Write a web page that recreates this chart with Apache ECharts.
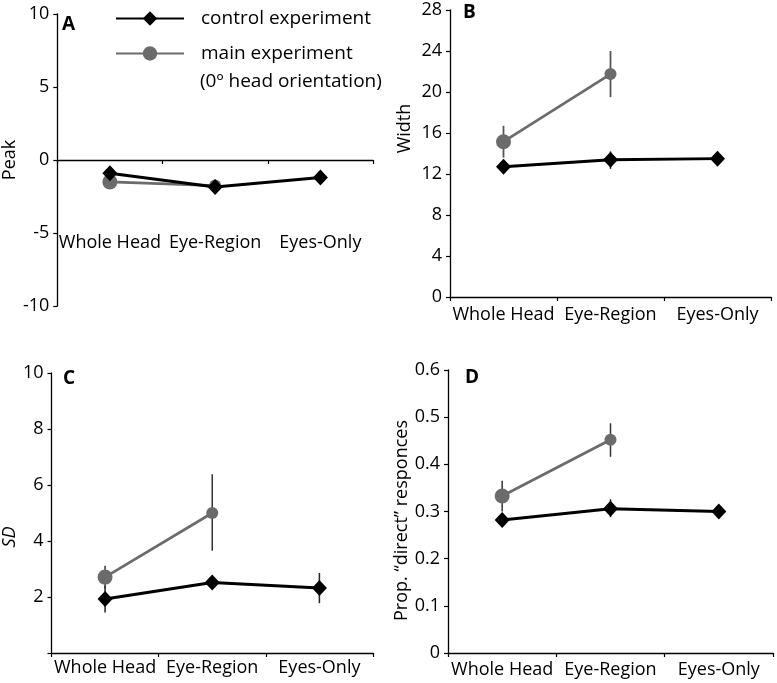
<!DOCTYPE html>
<html>
<head>
<meta charset="utf-8">
<script src="https://cdn.jsdelivr.net/npm/echarts@6/dist/echarts.min.js"></script>
<style>
html,body{margin:0;padding:0;background:#fff;}
#chart{width:777px;height:683px;}
</style>
</head>
<body>
<div id="chart"></div>
<script>
// ---- data ----
const categories = ['Whole Head', 'Eye-Region', 'Eyes-Only'];

const peakControl = [-0.9, -1.85, -1.2];
const peakMain = [-1.5, -1.75, null];

const widthControl = [12.7, 13.4, 13.5];
const widthControlLow = [12.3, 12.5, 12.9];
const widthControlHigh = [13.1, 14.2, 14.0];
const widthMain = [15.15, 21.75, null];
const widthMainLow = [13.6, 19.5, null];
const widthMainHigh = [16.7, 24.0, null];

const sdControl = [1.93, 2.52, 2.32];
const sdControlLow = [1.45, 2.3, 1.78];
const sdControlHigh = [2.4, 2.75, 2.86];
const sdMain = [2.71, 5.0, null];
const sdMainLow = [2.3, 3.65, null];
const sdMainHigh = [3.12, 6.38, null];

const propControl = [0.282, 0.306, 0.300];
const propControlLow = [0.272, 0.288, 0.29];
const propControlHigh = [0.292, 0.326, 0.31];
const propMain = [0.333, 0.452, null];
const propMainLow = [0.30, 0.416, null];
const propMainHigh = [0.365, 0.487, null];

const peakTicks = {min: -10, max: 10, interval: 5};
const widthTicks = {min: 0, max: 28, interval: 4};
const sdTicks = {min: 0, max: 10, interval: 2};
const propTicks = {min: 0, max: 0.6, interval: 0.1};

// ---- chart ----
const FONT = '"Open Sans", sans-serif';
const chart = echarts.init(document.getElementById('chart'), null, {renderer: 'canvas'});

const grids = [
  {left: 48, top: 14, width: 325, height: 292},
  {left: 450, top: 10, width: 321, height: 287},
  {left: 48, top: 373, width: 325, height: 280},
  {left: 448, top: 370, width: 325, height: 283}
];

function xAxisFor(i, margin) {
  return {
    type: 'category', gridIndex: i, data: categories,
    axisLine: {onZero: true, lineStyle: {color: '#000', width: 1.3}},
    axisTick: {show: true, length: 4, lineStyle: {color: '#000', width: 1.2}},
    axisLabel: {color: '#000', fontSize: 18, fontFamily: FONT, margin: margin, interval: 0},
    splitLine: {show: false}
  };
}
function yAxisFor(i, ticks, name, gap, pad, italic, fmt) {
  return {
    type: 'value', gridIndex: i, min: ticks.min, max: ticks.max, interval: ticks.interval,
    name: name, nameLocation: 'middle', nameGap: gap,
    nameTextStyle: {color: '#000', fontSize: 18, fontFamily: FONT, fontStyle: italic ? 'italic' : 'normal', padding: pad},
    axisLine: {show: true, onZero: false, lineStyle: {color: '#000', width: 1.3}},
    axisTick: {show: true, length: 4, lineStyle: {color: '#000', width: 1.2}},
    axisLabel: {color: '#000', fontSize: 18, fontFamily: FONT, margin: 8, formatter: fmt},
    splitLine: {show: false}
  };
}

function errData(low, high) {
  const out = [];
  for (let k = 0; k < low.length; k++) {
    if (low[k] != null && high[k] != null) out.push([k, low[k], high[k]]);
  }
  return out;
}
function errSeries(i, low, high, color, w) {
  return {
    type: 'custom', xAxisIndex: i, yAxisIndex: i, z: 1, silent: true,
    data: errData(low, high),
    renderItem: function (params, api) {
      const p1 = api.coord([api.value(0), api.value(1)]);
      const p2 = api.coord([api.value(0), api.value(2)]);
      return {type: 'line', shape: {x1: p1[0], y1: p1[1], x2: p2[0], y2: p2[1]},
              style: {stroke: color, lineWidth: w}};
    }
  };
}
function controlSeries(i, data) {
  return {
    name: 'control experiment', type: 'line', xAxisIndex: i, yAxisIndex: i, z: 3,
    data: data, symbol: 'diamond', symbolSize: [15, 16],
    itemStyle: {color: '#000'}, lineStyle: {color: '#000', width: 3},
    animation: false
  };
}
function mainSeries(i, data) {
  return {
    name: 'main experiment', type: 'line', xAxisIndex: i, yAxisIndex: i, z: 2,
    data: data, symbol: 'circle',
    symbolSize: function (v, p) { return p.dataIndex === 0 ? 15 : 12; },
    itemStyle: {color: '#6b6b6b'}, lineStyle: {color: '#6b6b6b', width: 2.7},
    connectNulls: false, animation: false
  };
}

const option = {
  animation: false,
  backgroundColor: '#fff',
  grid: grids,
  title: [
    {text: 'A', left: 62, top: 15},
    {text: 'B', left: 463, top: 3},
    {text: 'C', left: 63, top: 369},
    {text: 'D', left: 465, top: 368}
  ].map(t => Object.assign(t, {padding: 0, textStyle: {fontSize: 19, fontWeight: 'bold', color: '#000', fontFamily: FONT}})),
  legend: [
    {
      data: ['control experiment'], left: 115, top: 9, padding: 0,
      itemWidth: 68, itemHeight: 18,
      textStyle: {fontSize: 19, color: '#000', fontFamily: FONT, padding: [0, 0, 0, 12]}
    },
    {
      data: ['main experiment'], left: 115, top: 44, padding: 0,
      itemWidth: 68, itemHeight: 18,
      textStyle: {fontSize: 19, color: '#000', fontFamily: FONT, padding: [0, 0, 0, 12]}
    }
  ],
  graphic: [
    {type: 'text', left: 200, top: 72, silent: true,
     style: {text: '(0º head orientation)', fontSize: 19, fontFamily: FONT, fill: '#000'}}
  ],
  xAxis: [xAxisFor(0, -72), xAxisFor(1, 9), xAxisFor(2, 6), xAxisFor(3, 8)],
  yAxis: [
    yAxisFor(0, peakTicks, 'Peak', 28, [0, 0, 0, 0], false),
    yAxisFor(1, widthTicks, 'Width', 36, [0, 0, 0, 50], false),
    yAxisFor(2, sdTicks, 'SD', 28, [0, 48, 0, 0], true, v => (v === 0 ? '' : String(v))),
    yAxisFor(3, propTicks, 'Prop. “direct” responces', 36, [0, 18, 0, 0], false)
  ],
  series: [
    errSeries(1, widthControlLow, widthControlHigh, '#222', 1.5),
    errSeries(1, widthMainLow, widthMainHigh, '#555', 1.8),
    errSeries(2, sdControlLow, sdControlHigh, '#222', 1.5),
    errSeries(2, sdMainLow, sdMainHigh, '#333', 1.5),
    errSeries(3, propControlLow, propControlHigh, '#222', 1.5),
    errSeries(3, propMainLow, propMainHigh, '#333', 1.5),
    mainSeries(0, peakMain), controlSeries(0, peakControl),
    mainSeries(1, widthMain), controlSeries(1, widthControl),
    mainSeries(2, sdMain), controlSeries(2, sdControl),
    mainSeries(3, propMain), controlSeries(3, propControl)
  ]
};
chart.setOption(option);
</script>
</body>
</html>
